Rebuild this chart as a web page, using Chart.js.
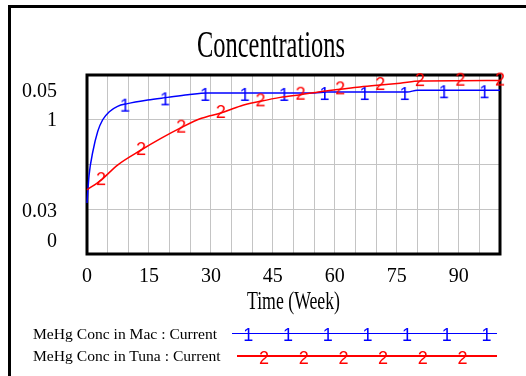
<!DOCTYPE html>
<html>
<head>
<meta charset="utf-8">
<script src="https://cdn.jsdelivr.net/npm/chart.js@4"></script>
<style>
html,body{margin:0;padding:0;background:#fff;}
#wrap{position:relative;width:526px;height:376px;overflow:hidden;background:#fff;}
#frame{position:absolute;left:8px;top:5px;right:-10px;bottom:-10px;border-left:3px solid #000;border-top:3px solid #000;}
#c{position:absolute;left:0;top:0;}
.leg{position:absolute;font-family:'Liberation Serif','Times New Roman',serif;font-size:15.6px;line-height:18px;color:#000;white-space:nowrap;}
.lline{position:absolute;height:1.5px;}
.mk{position:absolute;font-family:'Liberation Sans',Arial,sans-serif;font-size:18px;line-height:18px;white-space:nowrap;}
</style>
</head>
<body>
<div id="wrap">
  <div id="frame"></div>
  <canvas id="c" width="526" height="376"></canvas>
  <div id="legend"></div>
</div>
<script>
// ---- data ----
const chartTitle = 'Concentrations';
const xAxisTitle = 'Time (Week)';
const xTickLabels = ['0', '15', '30', '45', '60', '75', '90'];
const yTickLabels = ['0', '0.03', '1', '0.05'];
const seriesNames = ['MeHg Conc in Mac : Current', 'MeHg Conc in Tuna : Current'];

const macWeeks = [0, 0.5, 1.4, 2.6, 3.8, 5.4, 7.4, 9.8, 14.7, 19.5, 24.4, 29.2, 38.8, 48.3, 55, 58.1, 67.8, 77.5, 80, 87, 96.8, 100];
const macConc  = [0.0357, 0.0388, 0.0414, 0.0437, 0.0450, 0.0459, 0.0465, 0.0468, 0.0472, 0.0475, 0.0478, 0.0480, 0.0480, 0.0480, 0.0480, 0.0481, 0.0481, 0.0481, 0.0483, 0.0483, 0.0483, 0.0483];
const macMarkerWeeks = [9.8, 19.5, 29.2, 38.8, 48.3, 58.1, 67.8, 77.5, 87, 96.8];

const tunaWeeks = [0, 3.4, 7.4, 13.1, 17.9, 22.8, 27.7, 32.4, 37.2, 42.0, 46.8, 51.7, 56.5, 61.3, 66.1, 71.0, 75.8, 80.6, 90.4, 100];
const tunaConc  = [0.358, 0.413, 0.497, 0.581, 0.646, 0.706, 0.758, 0.788, 0.827, 0.853, 0.875, 0.890, 0.907, 0.920, 0.933, 0.944, 0.954, 0.966, 0.968, 0.969];
const tunaMarkerWeeks = [3.4, 13.1, 22.8, 32.4, 42.0, 51.7, 61.3, 71.0, 80.6, 90.4, 100];

// ---- styling / rendering ----
const BLUE = '#0000ff', RED = '#ff0000', GRID = '#c4c4c4';
Chart.defaults.color = '#000';
Chart.defaults.font.family = "'Liberation Serif','Times New Roman',serif";

function glyph(ch, color, dx, dy) {
  const c = document.createElement('canvas');
  c.width = 24; c.height = 30;
  const g = c.getContext('2d');
  g.font = '18px "Liberation Sans", Arial, sans-serif';
  g.fillStyle = color;
  g.textAlign = 'center';
  g.textBaseline = 'middle';
  g.fillText(ch, 12 + dx, 15 + dy);
  return c;
}
const mark1 = glyph('1', BLUE, -2.4, 3);
const mark2 = glyph('2', RED, 0, 0.5);

const plotBorder = {
  id: 'plotBorder',
  beforeDatasetsDraw(chart) {
    const {ctx, chartArea: a} = chart;
    ctx.save();
    ctx.strokeStyle = '#000';
    ctx.lineWidth = 3;
    ctx.strokeRect(a.left, a.top, a.right - a.left, a.bottom - a.top);
    ctx.restore();
  }
};

// narrow (condensed) look of the title texts in the reference
const squeeze = {
  id: 'squeeze',
  afterLayout(chart) {
    const tb = chart.titleBlock;
    if (tb && !tb._sq) {
      tb._sq = true;
      const orig = tb.draw.bind(tb);
      tb.draw = function (area) {
        const ctx = chart.ctx, cx = (tb.left + tb.right) / 2, target = 271;
        ctx.save(); ctx.translate(target, 0); ctx.scale(0.66, 1); ctx.translate(-cx, 0);
        orig(area);
        ctx.restore();
      };
    }
    const sx = chart.scales.x;
    if (sx && !sx._sq) {
      sx._sq = true;
      const origT = sx.drawTitle.bind(sx);
      sx.drawTitle = function () {
        const ctx = chart.ctx, cx = (sx.left + sx.right) / 2;
        ctx.save(); ctx.translate(cx, 0); ctx.scale(0.71, 1); ctx.translate(-cx, 0);
        origT();
        ctx.restore();
      };
    }
  }
};

function markerRadius(list) {
  return c => (c.raw && list.includes(c.raw.x)) ? 6 : 0;
}

new Chart(document.getElementById('c'), {
  type: 'line',
  data: {
    datasets: [
      {
        label: seriesNames[0],
        data: macWeeks.map((w, i) => ({x: w, y: macConc[i]})),
        yAxisID: 'yMac',
        borderColor: BLUE,
        backgroundColor: BLUE,
        borderWidth: 1.5,
        pointStyle: mark1,
        pointRadius: markerRadius(macMarkerWeeks),
        cubicInterpolationMode: 'monotone',
        clip: false,
        order: 1
      },
      {
        label: seriesNames[1],
        data: tunaWeeks.map((w, i) => ({x: w, y: tunaConc[i]})),
        yAxisID: 'yTuna',
        borderColor: RED,
        backgroundColor: RED,
        borderWidth: 1.5,
        pointStyle: mark2,
        pointRadius: markerRadius(tunaMarkerWeeks),
        cubicInterpolationMode: 'monotone',
        clip: false,
        order: 0
      }
    ]
  },
  options: {
    responsive: false,
    animation: false,
    events: [],
    layout: {padding: {left: 10, right: 26, top: 0, bottom: 59}},
    plugins: {
      legend: {display: false},
      tooltip: {enabled: false},
      title: {
        display: true,
        text: chartTitle,
        color: '#000',
        font: {family: "'Liberation Serif','Times New Roman',serif", size: 37, weight: 'normal', lineHeight: 1.2},
        padding: {top: 25, bottom: 5.6}
      }
    },
    scales: {
      x: {
        type: 'linear',
        position: 'bottom',
        min: 0, max: 100,
        grid: {color: GRID, lineWidth: 1, drawTicks: false},
        border: {display: false},
        ticks: {
          stepSize: 5,
          autoSkip: false,
          maxRotation: 0,
          padding: 10.5,
          font: {size: 20},
          callback: v => xTickLabels.includes(String(v)) ? String(v) : ''
        },
        title: {
          display: true,
          text: xAxisTitle,
          font: {size: 25, lineHeight: 1.2},
          padding: 0
        },
        afterFit: s => { s.height = 63; }
      },
      yl: {
        type: 'linear',
        position: 'left',
        weight: 1,
        min: 0, max: 1,
        grid: {display: false, drawTicks: false},
        border: {display: false},
        afterBuildTicks: ax => { ax.ticks = [0.069, 0.235, 0.744, 0.905].map(value => ({value})); },
        ticks: {
          padding: 30,
          font: {size: 20},
          callback: (v, i) => yTickLabels[i]
        },
        afterFit: s => { s.width = 77; }
      },
      yMac: {
        type: 'linear',
        position: 'left',
        weight: 0,
        min: 0.03, max: 0.05,
        grid: {color: GRID, lineWidth: 1, drawTicks: false},
        border: {display: false},
        ticks: {display: false, stepSize: 0.005},
        afterFit: s => { s.width = 0; }
      },
      yTuna: {
        type: 'linear',
        display: false,
        min: 0, max: 1
      }
    }
  },
  plugins: [plotBorder, squeeze]
});

// ---- legend (bottom of the figure) ----
(function buildLegend() {
  const L = document.getElementById('legend');
  const rows = [
    {name: seriesNames[0], color: BLUE, ch: '1', textTop: 325, lineY: 333.3, x0: 232, first: 250.7, count: 7, dx: -2.4, dy: 1.7},
    {name: seriesNames[1], color: RED,  ch: '2', textTop: 347, lineY: 356,   x0: 237, first: 264,   count: 6, dx: 0,    dy: 2.3}
  ];
  rows.forEach(r => {
    const t = document.createElement('div');
    t.className = 'leg';
    t.style.left = '33px';
    t.style.top = r.textTop + 'px';
    t.textContent = r.name;
    L.appendChild(t);
    const ln = document.createElement('div');
    ln.className = 'lline';
    ln.style.left = r.x0 + 'px';
    ln.style.width = (497 - r.x0) + 'px';
    ln.style.top = (r.lineY - 0.75) + 'px';
    ln.style.background = r.color;
    L.appendChild(ln);
    for (let i = 0; i < r.count; i++) {
      const m = document.createElement('span');
      m.className = 'mk';
      m.style.color = r.color;
      m.style.left = (r.first + i * 39.7 + r.dx) + 'px';
      m.style.top = (r.lineY + r.dy) + 'px';
      m.style.transform = 'translate(-50%,-50%)';
      m.textContent = r.ch;
      L.appendChild(m);
    }
  });
})();
</script>
</body>
</html>
